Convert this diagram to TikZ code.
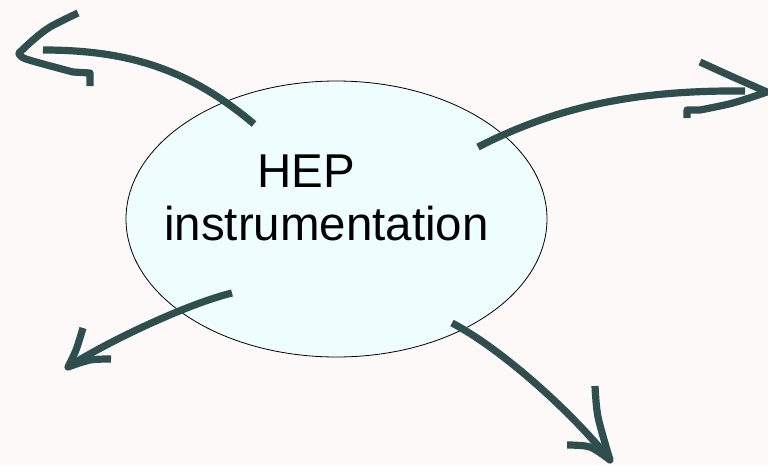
\documentclass[tikz,border=0pt]{standalone}
\usepackage{tkz-euclide}
\usepackage{fontspec}
\setmainfont{Liberation Sans}
\usetikzlibrary{shapes.geometric}
\definecolor{paper}{HTML}{FDF9F8}
\definecolor{bubble}{HTML}{EEFEFF}
\definecolor{slate}{HTML}{2F4F4F}
\tikzset{sketch/.style={draw=slate, line width=5.4pt, line join=round}}

\begin{document}
\begin{tikzpicture}[x=0.75pt, y=-0.75pt]
    \fill[paper] (0,0) rectangle (768,465);
    \useasboundingbox (0,0) rectangle (768,465);
    \node[ellipse, draw=black, line width=0.6pt, fill=bubble, inner sep=0pt,
          minimum width=315.75pt, minimum height=207pt] (hep) at (336.5,219) {};
    \node[anchor=base, font=\fontsize{35.6}{42}\selectfont] (heptop) at (306.5,187) {HEP};
    \node[anchor=base, font=\fontsize{35.6}{42}\selectfont] (hepbot) at (326.5,240) {instrumentation};
    % upper left arrow
    \tkzDefPoints{254/124/A1,190/70/A2,130/50/A3,43/50/A4}
    \tkzDefPoints{78/13/B1,50/27/B2,33/40/B3,19/53/B4,26/59/B5,73/72/B6,90/73/B7,90/86/B8}
    \draw[sketch] (A1) .. controls (A2) and (A3) .. (A4);
    \draw[sketch] plot[smooth] coordinates {(B1) (B2) (B3) (B4)}
        -- plot[smooth] coordinates {(B4) (B5) (B6)} -- (B7) -- (B8);
    % upper right arrow
    \tkzDefPoints{478/147/C1,560/105/C2,640/90/C3,745/91/C4}
    \tkzDefPoints{700/62/D1,733/77/D2,767/92/D3,733/103/D4,700/110/D5,687/110/D6,687/118/D7}
    \draw[sketch] (C1) .. controls (C2) and (C3) .. (C4);
    \draw[sketch] plot[smooth] coordinates {(D1) (D2) (D3)}
        -- plot[smooth] coordinates {(D3) (D4) (D5)} -- (D6) -- (D7);
    % lower left arrow
    \tkzDefPoints{232/293/E1,190/303/E2,110/340/E3,68/367/E4}
    \tkzDefPoints{83/328/F1,76/350/F2,68/367/F3,90/360/F4,111/359/F5}
    \draw[sketch] (E1) .. controls (E2) and (E3) .. (E4);
    \draw[sketch] plot[smooth] coordinates {(F1) (F2) (F3)}
        -- plot[smooth] coordinates {(F3) (F4) (F5)};
    % lower right arrow
    \tkzDefPoints{452/323/G1,500/348/G2,570/410/G3,610/460/G4}
    \tkzDefPoints{595/386/H1,598/417/H2,610/460/H3,590/447/H4,567/445/H5}
    \draw[sketch] (G1) .. controls (G2) and (G3) .. (G4);
    \draw[sketch] plot[smooth] coordinates {(H1) (H2) (H3)}
        -- plot[smooth] coordinates {(H3) (H4) (H5)};
\end{tikzpicture}
\end{document}
